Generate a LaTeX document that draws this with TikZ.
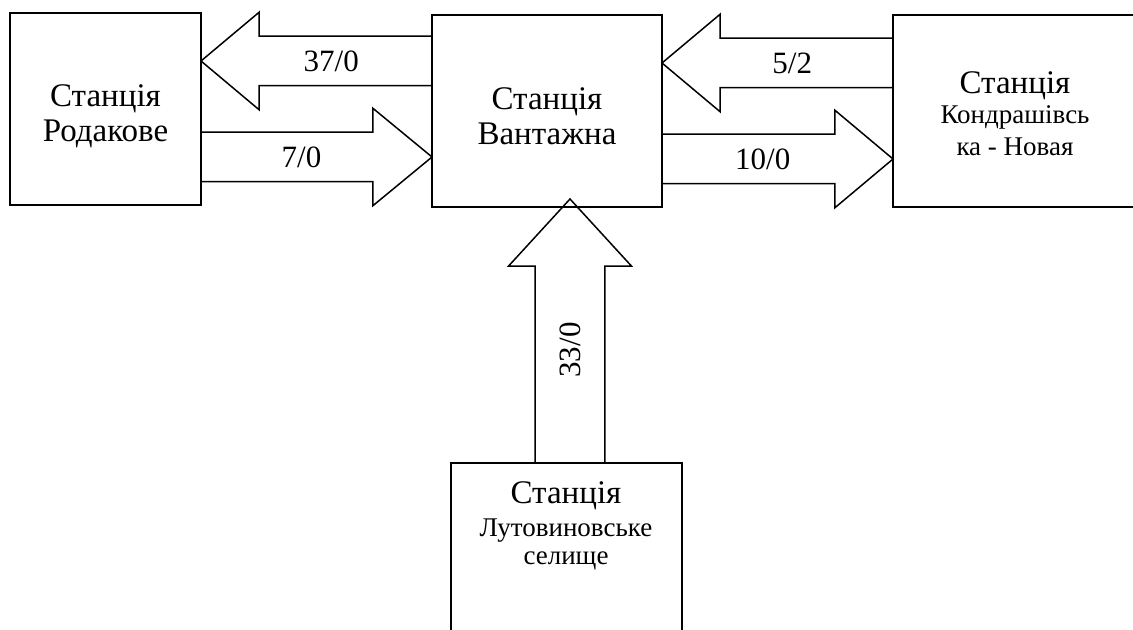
\documentclass[tikz,border=0pt]{standalone}
\usepackage{fontspec}
\setmainfont{Liberation Serif}
\usetikzlibrary{shapes.arrows}

\newcommand{\stsmall}[1]{{\fontsize{13.5}{15}\selectfont #1}}

\begin{document}
\begin{tikzpicture}[x=0.5pt,y=-0.5pt,
    station/.style={draw,line width=.75pt,minimum height=96pt,inner sep=0pt,outer sep=0pt},
    stationtext/.style={align=center,font=\fontsize{16.5}{17.5}\selectfont},
    flow/.style={single arrow,draw,line width=.75pt,inner sep=0pt,outer sep=0pt,
      text height=17.25pt,text depth=6.75pt,
      minimum width=48pt,minimum height=115.5pt,
      single arrow head extend=12pt,single arrow tip angle=80,
      font=\fontsize{15.5}{17}\selectfont}]

  \useasboundingbox (0,0) rectangle (1133,630);
  \clip (0,0) rectangle (1133,630);

  % stations
  \node[station,minimum width=95.5pt]  (rod)  at (105.5,109) {};
  \node[station,minimum width=115pt]   (vant) at (547,111)   {};
  \node[station,minimum width=126pt]   (kond) at (1019,111)  {};
  \node[station,minimum width=115.5pt] (lut)  at (566.5,559) {};

  \node[stationtext] (rodname)  at (105.5,116) {Станція\\Родакове};
  \node[stationtext] (vantname) at (547,116)   {Станція\\Вантажна};
  \node[stationtext] (kondname) at (1015,114)
    {Станція\\[-2.5pt]\stsmall{Кондрашівсь}\\[-1.5pt]\stsmall{ка - Новая}};
  \node[stationtext] (lutname)  at (566,526)
    {Станція\\[-1pt]\stsmall{Лутовиновське}\\[-3.5pt]\stsmall{селище}};

  % flows
  \node[flow,shape border rotate=180,anchor=tip] (f37) at ([yshift=24pt]rod.east) {37/0};
  \node[flow,anchor=tip,single arrow tip angle=79] (f7) at ([yshift=-23pt]vant.west) {7/0};
  \node[flow,shape border rotate=180,anchor=tip] (f52) at ([yshift=24pt]vant.east) {5/2};
  \node[flow,anchor=tip,minimum width=48.5pt] (f10) at ([yshift=-24pt]kond.west) {10/0};
  \node[flow,rotate=90,anchor=tip,text height=20.5pt,text depth=10pt,
        minimum width=61.5pt,minimum height=132pt,single arrow tip angle=85]
        (f33) at ([xshift=11.5pt,yshift=4pt]vant.south) {33/0};

\end{tikzpicture}
\end{document}
